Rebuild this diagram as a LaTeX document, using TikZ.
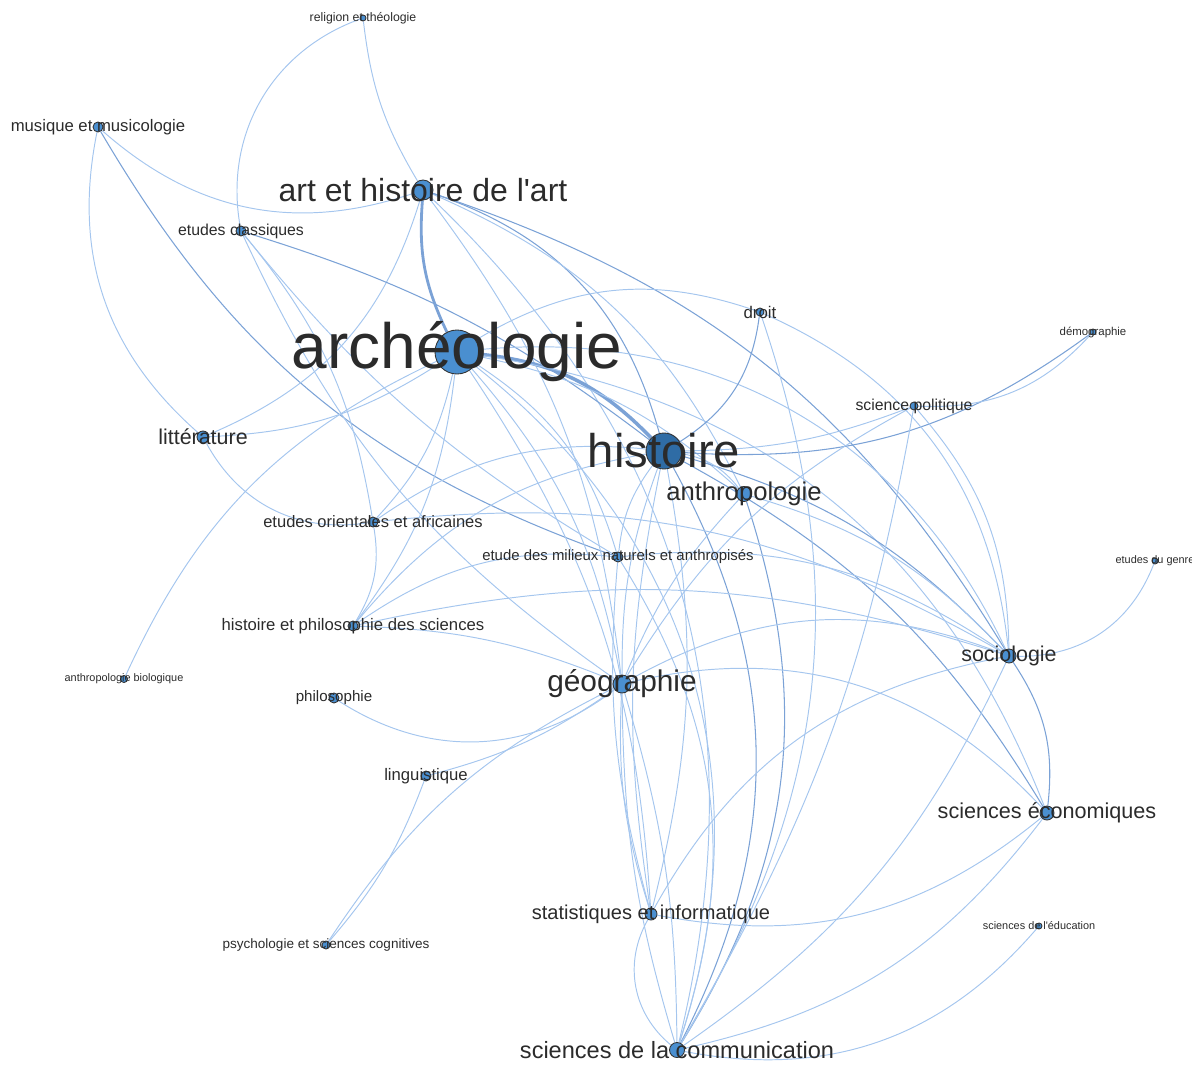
\documentclass[tikz,border=0pt]{standalone}
\usepackage{fontspec}
\setmainfont{Liberation Sans}[Ligatures=TeXOff]
\usetikzlibrary{backgrounds}
\definecolor{nodeblue}{HTML}{4A8FD0}
\definecolor{histblue}{HTML}{2F6CA5}
\definecolor{edgelight}{HTML}{A5C6EE}
\definecolor{edgedark}{HTML}{7BA2D6}
\definecolor{labelgray}{HTML}{2B2B2B}
\tikzstyle{dot} = [circle, draw=black!80, fill=nodeblue, inner sep=0pt, line width=0.5pt]
\tikzstyle{lbl} = [text=labelgray, inner sep=0pt]
\tikzstyle{ed} = [draw=edgelight, line width=0.55pt]
\tikzstyle{edk} = [draw=edgedark, line width=0.6pt]

\begin{document}
\begin{tikzpicture}[x=0.02cm, y=-0.02cm]
\useasboundingbox (0,0) rectangle (1192,1064);

% Disciplines (circles)
\node[dot, minimum size=0.12cm] (rel) at (363,18) {};
\node[dot, minimum size=0.2cm] (mus) at (98,127) {};
\node[dot, minimum size=0.4cm] (art) at (423,190) {};
\node[dot, minimum size=0.2cm] (ecl) at (241,231) {};
\node[dot, minimum size=0.88cm] (arc) at (457,352) {};
\node[dot, minimum size=0.16cm] (dro) at (760,312) {};
\node[dot, minimum size=0.12cm] (dem) at (1093,332) {};
\node[dot, minimum size=0.16cm] (spo) at (914,406) {};
\node[dot, fill=histblue, minimum size=0.72cm] (his) at (664,451) {};
\node[dot, minimum size=0.3cm] (ant) at (744,494) {};
\node[dot, minimum size=0.24cm] (lit) at (203,437) {};
\node[dot, minimum size=0.2cm] (eoa) at (373,522) {};
\node[dot, minimum size=0.2cm] (emn) at (618,557) {};
\node[dot, minimum size=0.12cm] (egn) at (1155,561) {};
\node[dot, minimum size=0.28cm] (soc) at (1009,656) {};
\node[dot, minimum size=0.2cm] (hps) at (353,626) {};
\node[dot, minimum size=0.14cm] (abi) at (124,679) {};
\node[dot, minimum size=0.36cm] (geo) at (622,684) {};
\node[dot, minimum size=0.2cm] (phi) at (334,698) {};
\node[dot, minimum size=0.2cm] (lin) at (426,776) {};
\node[dot, minimum size=0.28cm] (sce) at (1047,813) {};
\node[dot, minimum size=0.24cm] (sti) at (651,914) {};
\node[dot, minimum size=0.16cm] (psy) at (326,945) {};
\node[dot, minimum size=0.12cm] (sed) at (1039,926) {};
\node[dot, minimum size=0.3cm] (scm) at (677,1050) {};

% Labels
\node[lbl, font=\fontsize{7}{7}\selectfont] (rel-t) at (rel) {religion et théologie};
\node[lbl, font=\fontsize{9.5}{9.5}\selectfont] (mus-t) at (mus) {musique et musicologie};
\node[lbl, font=\fontsize{18.2}{18}\selectfont] (art-t) at (art) {art et histoire de l'art};
\node[lbl, font=\fontsize{9}{9}\selectfont] (ecl-t) at (ecl) {etudes classiques};
\node[lbl, font=\fontsize{36.4}{36}\selectfont] (arc-t) at (arc) {archéologie};
\node[lbl, font=\fontsize{9.6}{9.6}\selectfont] (dro-t) at (dro) {droit};
\node[lbl, font=\fontsize{6.5}{6.5}\selectfont] (dem-t) at (dem) {démographie};
\node[lbl, font=\fontsize{9}{9}\selectfont] (spo-t) at (spo) {science politique};
\node[lbl, font=\fontsize{26.9}{27}\selectfont] (his-t) at (his) {histoire};
\node[lbl, font=\fontsize{14.6}{14.6}\selectfont] (ant-t) at (ant) {anthropologie};
\node[lbl, font=\fontsize{12.2}{12.2}\selectfont] (lit-t) at (lit) {littérature};
\node[lbl, font=\fontsize{9.4}{9.4}\selectfont] (eoa-t) at (eoa) {etudes orientales et africaines};
\node[lbl, font=\fontsize{8.5}{8.5}\selectfont] (emn-t) at (emn) {etude des milieux naturels et anthropisés};
\node[lbl, font=\fontsize{6.2}{6.2}\selectfont] (egn-t) at (egn) {etudes du genre};
\node[lbl, font=\fontsize{12.2}{12.2}\selectfont] (soc-t) at (soc) {sociologie};
\node[lbl, font=\fontsize{9.5}{9.5}\selectfont] (hps-t) at (hps) {histoire et philosophie des sciences};
\node[lbl, font=\fontsize{6.2}{6.2}\selectfont] (abi-t) at (abi) {anthropologie biologique};
\node[lbl, font=\fontsize{17}{17}\selectfont] (geo-t) at (geo) {géographie};
\node[lbl, font=\fontsize{8.6}{8.6}\selectfont] (phi-t) at (phi) {philosophie};
\node[lbl, font=\fontsize{9.5}{9.5}\selectfont] (lin-t) at (lin) {linguistique};
\node[lbl, font=\fontsize{12.3}{12.3}\selectfont] (sce-t) at (sce) {sciences économiques};
\node[lbl, font=\fontsize{11.4}{11.4}\selectfont] (sti-t) at (sti) {statistiques et informatique};
\node[lbl, font=\fontsize{7.7}{7.7}\selectfont] (psy-t) at (psy) {psychologie et sciences cognitives};
\node[lbl, font=\fontsize{6.2}{6.2}\selectfont] (sed-t) at (sed) {sciences de l'éducation};
\node[lbl, font=\fontsize{13.4}{13.4}\selectfont] (scm-t) at (scm) {sciences de la communication};

% Links
\begin{scope}[on background layer]
\draw[ed] (rel) to[bend right=12] (art);
\draw[ed] (rel) to[bend right=40] (ecl);
\draw[ed] (mus) to[bend right=30] (art);
\draw[edk] (mus) to[bend right=20] (emn);
\draw[ed] (mus) to[bend right=30] (lit);
\draw[ed] (lit) to[bend right=35] (eoa);
\draw[draw=edgedark, line width=1.6pt] (art) to[bend right=15] (arc);
\draw[edk] (art) to[bend left=28] (his);
\draw[ed] (art) to[bend left=20] (ant);
\draw[ed] (art) to[bend left=15] (geo);
\draw[ed] (art) to[bend left=30] (scm);
\draw[ed] (art) to[bend left=25] (lit);
\draw[edk] (art) to[bend left=20] (soc);
\draw[edk] (ecl) to[bend left=10] (his);
\draw[ed] (ecl) to[bend right=15] (geo);
\draw[ed] (ecl) to[bend right=10] (emn);
\draw[ed] (ecl) to[bend left=15] (eoa);
\draw[draw=edgedark, line width=2pt] (arc) to[bend left=20] (his);
\draw[ed] (arc) to[bend left=15] (ant);
\draw[ed] (arc) to[bend left=15] (geo);
\draw[ed] (arc) to[bend left=35] (scm);
\draw[ed] (arc) to[bend left=15] (sti);
\draw[ed] (arc) to[bend left=20] (emn);
\draw[ed] (arc) to[bend left=15] (eoa);
\draw[ed] (arc) to[bend left=15] (hps);
\draw[ed] (arc) to[bend right=20] (abi);
\draw[ed] (arc) to[bend left=35] (soc);
\draw[ed] (arc) to[bend left=30] (sce);
\draw[ed] (lit) to[bend right=15] (arc);
\draw[ed] (arc) to[bend left=25] (dro);
\draw[edk] (his) to[bend right=25] (dro);
\draw[edk] (his) to[bend right=20] (dem);
\draw[ed] (his) to[bend right=10] (spo);
\draw[edk] (his) to[bend left=15] (soc);
\draw[edk] (his) to[bend left=15] (sce);
\draw[ed] (his) to[bend right=10] (geo);
\draw[edk] (his) to[bend left=28] (scm);
\draw[ed] (his) to[bend right=10] (sti);
\draw[ed] (his) to[bend left=12] (sti);
\draw[ed] (his) to[bend left=20] (ant);
\draw[ed] (his) to[bend right=15] (emn);
\draw[ed] (his) to[bend right=20] (hps);
\draw[ed] (his) to[bend right=20] (eoa);
\draw[ed] (ant) to[bend left=15] (soc);
\draw[edk] (ant) to[bend left=25] (scm);
\draw[ed] (ant) to[bend right=10] (geo);
\draw[ed] (dro) to[bend left=25] (scm);
\draw[ed] (dro) to[bend left=30] (soc);
\draw[ed] (spo) to[bend right=25] (dem);
\draw[ed] (spo) to[bend left=20] (soc);
\draw[ed] (spo) to[bend left=10] (scm);
\draw[ed] (spo) to[bend right=15] (geo);
\draw[ed] (egn) to[bend left=35] (soc);
\draw[ed] (soc) to[bend right=25] (geo);
\draw[ed] (soc) to[bend right=25] (sti);
\draw[edk] (soc) to[bend left=20] (sce);
\draw[ed] (soc) to[bend left=15] (scm);
\draw[ed] (soc) to[bend right=20] (emn);
\draw[ed] (hps) to[bend left=15] (soc);
\draw[ed] (eoa) to[bend left=18] (soc);
\draw[ed] (sce) to[bend right=30] (geo);
\draw[ed] (sce) to[bend left=25] (sti);
\draw[ed] (sce) to[bend left=20] (scm);
\draw[ed] (sed) to[bend left=30] (scm);
\draw[ed] (sti) to[bend right=40] (scm);
\draw[ed] (geo) to[bend right=8] (scm);
\draw[ed] (geo) to[bend left=8] (scm);
\draw[ed] (geo) to[bend right=10] (sti);
\draw[ed] (phi) to[bend right=35] (geo);
\draw[ed] (lin) to[bend right=10] (geo);
\draw[ed] (psy) to[bend left=15] (geo);
\draw[ed] (lin) to[bend left=10] (psy);
\draw[ed] (hps) to[bend left=20] (emn);
\draw[ed] (hps) to[bend left=10] (geo);
\draw[ed] (eoa) to[bend left=20] (hps);
\draw[ed] (emn) to[bend left=25] (scm);
\draw[ed] (emn) to[bend right=10] (sti);
\end{scope}

\end{tikzpicture}
\end{document}
